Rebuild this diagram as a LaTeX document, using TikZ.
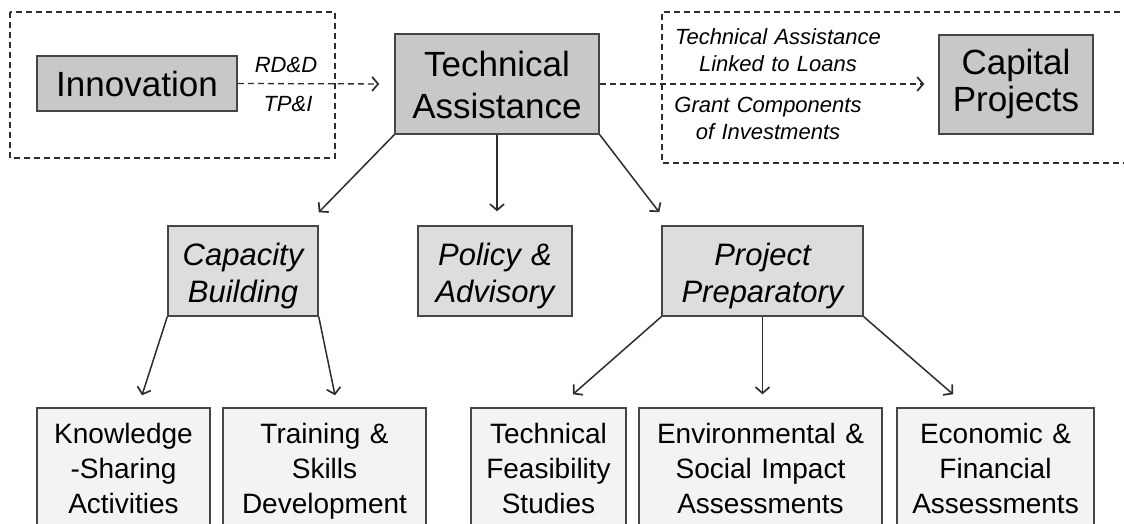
\documentclass[tikz,border=0pt]{standalone}
\usepackage{fontspec}
\setmainfont{Liberation Sans}
\usetikzlibrary{arrows.meta,calc}

\definecolor{edgegray}{RGB}{70,70,70}
\definecolor{linegray}{RGB}{45,45,45}
\definecolor{fillA}{RGB}{200,200,200}
\definecolor{fillB}{RGB}{221,221,221}
\definecolor{fillC}{RGB}{243,243,243}

\tikzset{
  box/.style={draw=edgegray, line width=1.5pt, inner sep=0pt, align=center, text=black},
  levelA/.style={box, fill=fillA, font=\fontsize{35}{42}\selectfont},
  levelB/.style={box, fill=fillB, minimum height=90pt, text height=25pt, text depth=37pt,
                 font=\fontsize{31}{37}\selectfont\itshape},
  levelC/.style={box, fill=fillC, minimum height=120pt, text height=20pt, text depth=70pt,
                 font=\fontsize{28}{35}\selectfont},
  sized/.style={minimum width=#1, text width=#1},
  frame/.style={draw=linegray, line width=1.3pt, dash pattern=on 6pt off 4pt},
  flowtip/.style={-{Straight Barb[length=6pt,width=14pt,line width=1.7pt]}},
  dasharrow/.style={frame, flowtip},
  arr/.style={draw=linegray, line width=1.5pt, flowtip},
  lab/.style={inner sep=0pt, font=\fontsize{22}{26.5}\selectfont\itshape},
  labtwo/.style={lab, text width=250pt, align=center}
}

\begin{document}
\begin{tikzpicture}[x=1pt,y=-1pt]
  \useasboundingbox (0,0) rectangle (1124,524);
  \fill[white] (0,0) rectangle (1124,524);
  \clip (0,0) rectangle (1124,524);

  % dashed groupings
  \draw[frame] (10,12) rectangle (335,158);
  \draw[frame] (1130,12) -- (662,12) -- (662,163) -- (1130,163);

  % top level
  \node[levelA, sized=200pt, minimum height=55pt, text height=27pt, text depth=0pt]
    (inno) at (137,83.5) {Innovation};
  \node[levelA, sized=204pt, minimum height=100pt, text height=28pt, text depth=42pt]
    (ta) at (497,84) {Technical\\Assistance};
  \node[levelA, sized=154pt, minimum height=99pt, text height=25pt, text depth=44pt,
        font=\fontsize{35}{37}\selectfont]
    (capital) at (1016,84.5) {Capital\\Projects};

  % middle level
  \node[levelB, sized=150pt] (capb) at (243,271) {Capacity\\Building};
  \node[levelB, sized=154pt] (pol)  at (495,271) {Policy \&\\Advisory};
  \node[levelB, sized=201pt] (proj) at (762.5,271) {Project\\Preparatory};

  % bottom level
  \node[levelC, sized=173pt] (know)  at (123.5,468) {Knowledge\\-Sharing\\Activities};
  \node[levelC, sized=203pt] (train) at (324.5,468) {Training \&\\Skills\\Development};
  \node[levelC, sized=155pt] (feas)  at (548.5,468) {Technical\\Feasibility\\Studies};
  \node[levelC, sized=243pt] (env)   at (760.5,468) {Environmental \&\\Social Impact\\Assessments};
  \node[levelC, sized=197pt] (econ)  at (995.5,468) {Economic \&\\Financial\\Assessments};

  % dashed flows with their labels
  \draw[dasharrow, shorten >=15pt] (inno.east) -- (ta.west);
  \draw[dasharrow, shorten >=14pt] (ta.east) -- (capital.west |- ta.east);
  \node[lab, anchor=base] (rdd) at (286,73) {RD\&D};
  \node[lab, anchor=base] (tpi) at (288,112) {TP\&I};
  \node[labtwo, anchor=base] (tal) at (778,45) {Technical Assistance\\Linked to Loans};
  \node[labtwo, anchor=base] (gci) at (768,113) {Grant Components\\of Investments};

  % solid branches
  \draw[arr] (ta.south west) -- ([yshift=13pt]capb.north east);
  \draw[arr] (ta.south) -- ([yshift=14pt]ta.south |- pol.north);
  \draw[arr] (ta.south east) -- ([xshift=-2pt,yshift=13pt]proj.north west);
  \draw[arr] (capb.south west) -- ([xshift=18.5pt,yshift=12pt]know.north);
  \draw[arr] (capb.south east) -- ([xshift=10.5pt,yshift=12pt]train.north);
  \draw[arr] (proj.south west) -- ([xshift=24.5pt,yshift=13pt]feas.north);
  \draw[arr] (proj.south) -- ([yshift=13pt]proj.south |- env.north);
  \draw[arr] (proj.south east) -- ([xshift=-42.5pt,yshift=13pt]econ.north);
\end{tikzpicture}
\end{document}
